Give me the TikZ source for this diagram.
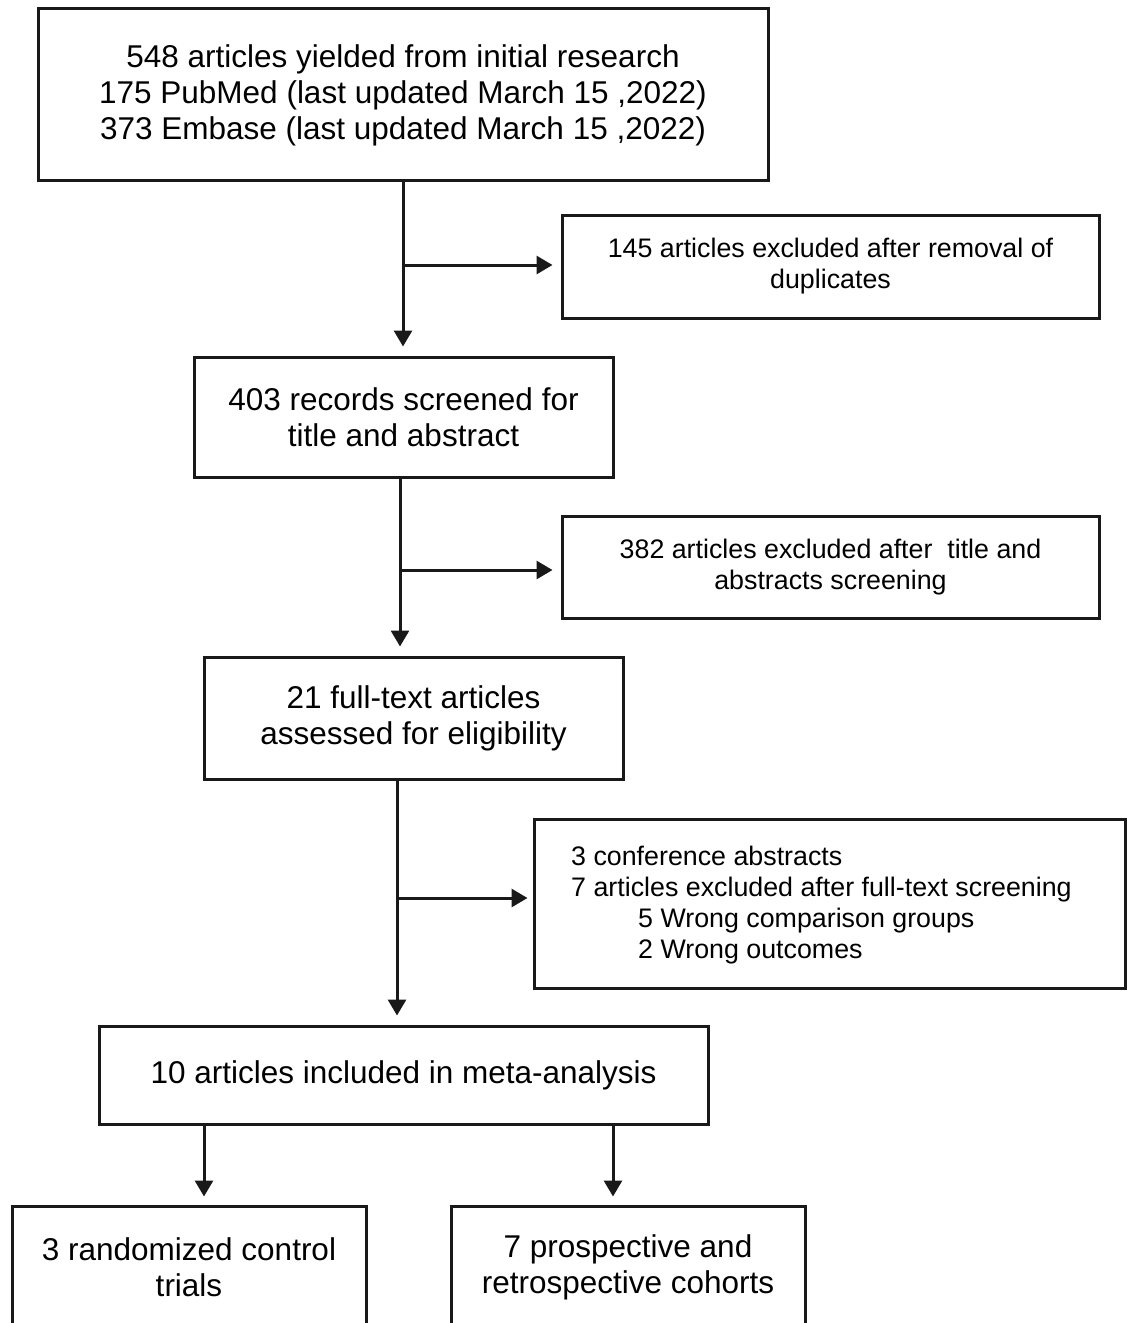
\documentclass[tikz,border=0pt]{standalone}
\usepackage{fontspec}
\setmainfont{Liberation Sans}
\usetikzlibrary{arrows.meta}
\tikzset{
  box/.style={draw=black!90, line width=3pt, inner sep=0pt, align=center,
    font=\fontsize{31.5}{36}\selectfont},
  exbox/.style={draw=black!90, line width=3pt, inner sep=0pt, align=center,
    font=\fontsize{26.8}{31}\selectfont},
  arr/.style={draw=black!90, line width=3pt, -{Triangle[length=16pt,width=18pt]}},
  plain/.style={draw=black!90, line width=3pt}
}
\begin{document}
\begin{tikzpicture}[x=1pt,y=-1pt]
\useasboundingbox (0,0) rectangle (1127,1323);
% main boxes
\node[box, minimum width=730pt, minimum height=172pt] (b1) at (403,94)
  {\strut548 articles yielded from initial research\\175 PubMed (last updated March 15 ,2022)\\373 Embase (last updated March 15 ,2022)};
\node[box, minimum width=419pt, minimum height=120pt] (b2) at (403.5,417)
  {403 records screened for\\title and abstract};
\node[box, minimum width=419pt, minimum height=122pt] (b3) at (413.5,718)
  {21 full-text articles\\assessed for eligibility};
\node[box, minimum width=609pt, minimum height=98pt] (b4) at (403.5,1075)
  {10 articles included in meta-analysis};
\node[box, minimum width=354pt, minimum height=122pt] (b5) at (189,1267)
  {3 randomized control\\trials};
\node[box, minimum width=354pt, minimum height=122pt] (b6) at (628,1267)
  {7 prospective and\\retrospective cohorts};
% exclusion boxes
\node[exbox, minimum width=537pt, minimum height=103pt] (e1) at (830.5,266.5)
  {145 articles excluded after removal of\\duplicates};
\node[exbox, minimum width=537pt, minimum height=102pt] (e2) at (830.5,567)
  {382 articles excluded after\ \ title and\\abstracts screening};
\node[exbox, minimum width=591pt, minimum height=169pt] (e3) at (829.5,903.5) {};
\node[anchor=west, align=left, inner sep=0pt, font=\fontsize{26.8}{31}\selectfont] (e3t) at (571,905)
  {3 conference abstracts\\7 articles excluded after full-text screening\\\hspace*{67pt}5 Wrong comparison groups\\\hspace*{67pt}2 Wrong outcomes};
% connector coordinates
\coordinate (v1) at (403,265);
\coordinate (v2) at (400,570);
\coordinate (v3) at (397,898);
\coordinate (v4) at (204,0);
\coordinate (v5) at (613,0);
% vertical arrows
\draw[arr, shorten >=9pt] (v1 |- b1.south) -- (v1 |- b2.north);
\draw[arr, shorten >=9pt] (v2 |- b2.south) -- (v2 |- b3.north);
\draw[arr, shorten >=9pt] (v3 |- b3.south) -- (v3 |- b4.north);
\draw[arr, shorten >=8pt] (v4 |- b4.south) -- (v4 |- b5.north);
\draw[arr, shorten >=8pt] (v5 |- b4.south) -- (v5 |- b6.north);
% branch arrows
\draw[arr, shorten >=8pt] (v1) -- (v1 -| e1.west);
\draw[arr, shorten >=8pt] (v2) -- (v2 -| e2.west);
\draw[arr, shorten >=5pt] (v3) -- (v3 -| e3.west);
\end{tikzpicture}
\end{document}
